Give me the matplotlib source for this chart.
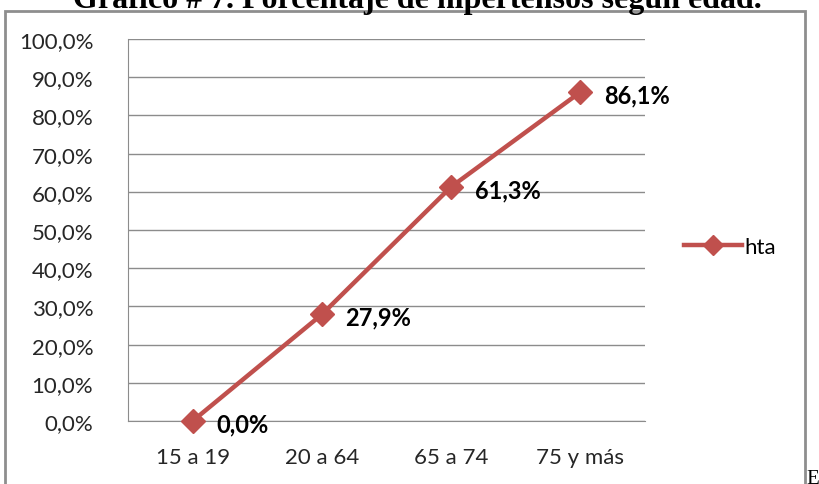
import matplotlib.pyplot as plt
import matplotlib.patches as patches
from matplotlib.ticker import FuncFormatter

# data
categories = ['15 a 19', '20 a 64', '65 a 74', '75 y más']
hta = [0.0, 0.279, 0.613, 0.861]
y_ticks = [i / 10 for i in range(11)]

red = '#C0504D'
grid_gray = '#8C8C8C'

W, H = 820, 485
fig = plt.figure(figsize=(W / 100, H / 100), dpi=100)

# outer chart frame (runs off the bottom)
frame = patches.Rectangle((5 / W, -0.05), 800 / W, 1.05 - 12 / H,
                          transform=fig.transFigure, fill=False,
                          edgecolor='#8E8E8E', linewidth=2)
fig.patches.append(frame)

ax = fig.add_axes([128 / W, (H - 422) / H, (645 - 128) / W, (422 - 40) / H])

x = list(range(len(categories)))
ax.plot(x, hta, color=red, linewidth=3.2, marker='D', markersize=12.5,
        markeredgecolor=red, label='hta', zorder=3, clip_on=False)

for xi, v in zip(x, hta):
    label = f'{v * 100:.1f}%'.replace('.', ',')
    ax.annotate(label, (xi, v), xytext=(17, -2), textcoords='offset points',
                ha='left', va='center', fontsize=17, fontweight='bold',
                family='Lato', color='black', zorder=4)

ax.set_xlim(-0.5, 3.5)
ax.set_ylim(0, 1)
ax.set_xticks(x)
ax.set_xticklabels(categories, family='Lato', fontsize=16, color='#262626')
ax.set_yticks(y_ticks)
ax.yaxis.set_major_formatter(FuncFormatter(lambda v, p: f'{v * 100:.1f}%'.replace('.', ',')))
for t in ax.get_yticklabels():
    t.set_family('Lato')
    t.set_fontsize(16)
    t.set_color('#262626')
ax.tick_params(axis='y', length=0, pad=25)
ax.tick_params(axis='x', length=0, pad=19)

ax.grid(axis='y', color=grid_gray, linewidth=1)
ax.set_axisbelow(True)
for s in ['top', 'right']:
    ax.spines[s].set_visible(False)
ax.spines['left'].set_color(grid_gray)
ax.spines['bottom'].set_color(grid_gray)

fig.legend(loc='center left', bbox_to_anchor=(664 / W, 1 - 248 / H),
           frameon=False, handlelength=2.6, handletextpad=0.1, markerscale=0.8,
           prop={'family': 'Lato', 'size': 16})

# title cut off at the top of the picture
fig.text(417 / W, 1 - 8 / H, 'Gráfico # 7. Porcentaje de hipertensos según edad.',
         ha='center', va='baseline', fontsize=23, fontweight='bold',
         family='Liberation Serif')
fig.text(806 / W, 1 - 470 / H, 'E', ha='left', va='top', fontsize=15,
         family='Liberation Serif')

plt.savefig('out.png', dpi=100)
